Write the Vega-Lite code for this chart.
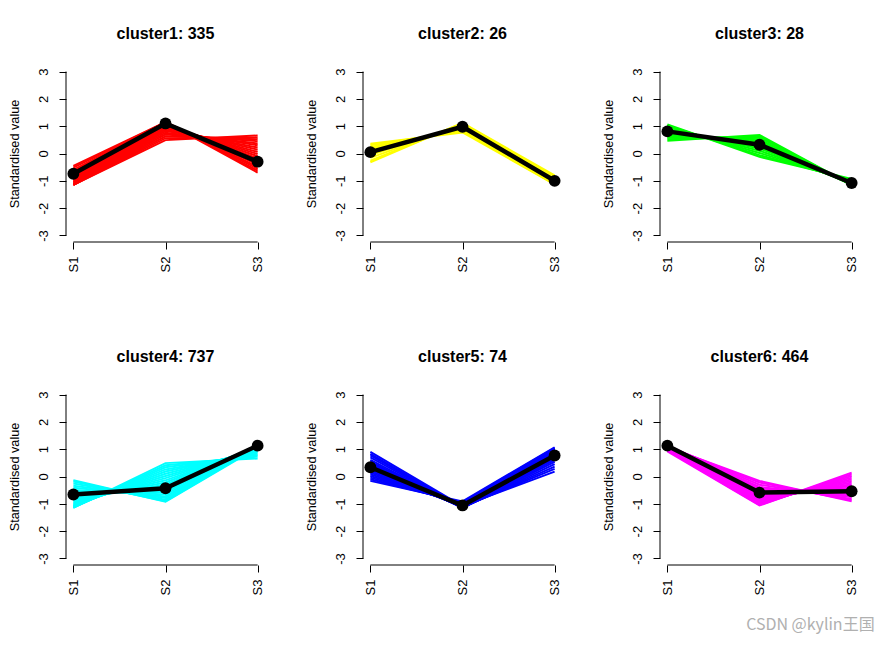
{
"$schema": "https://vega.github.io/schema/vega-lite/v6.json",
"background": "white",
"padding": {"left": 8, "top": 26, "right": 5, "bottom": 5},
"bounds": "flush",
"columns": 3,
"spacing": {"row": 146, "column": 98},
"title": {"text": "CSDN @kylin王国", "orient": "bottom", "anchor": "end", "fontSize": 16, "fontWeight": "normal", "color": "#b0b0b0", "font": "Noto Sans CJK SC", "offset": 22, "dx": 14},
"config": {
  "font": "Liberation Sans",
  "view": {"stroke": null},
  "axis": {"grid": false, "domain": false, "tickSize": 7, "tickWidth": 1, "tickColor": "black", "labelFontSize": 13, "labelColor": "black", "labelFont": "Liberation Sans", "titleFont": "Liberation Sans", "titleFontSize": 12.7, "titleFontWeight": "normal", "titleColor": "black", "labelOverlap": false},
  "axisY": {"labelAngle": -90, "labelAlign": "center", "labelBaseline": "bottom", "labelPadding": 9, "titlePadding": 16, "tickCount": 7},
  "axisX": {"labelAngle": -90, "labelAlign": "right", "labelBaseline": "middle", "labelPadding": 7},
  "title": {"fontSize": 16, "fontWeight": "bold", "font": "Liberation Sans", "offset": 23, "anchor": "middle", "color": "black"}
},
"datasets": {
  "genes": [
    {"c":1,"id":1,"S1":-0.45,"S2":1.15,"S3":-0.70},{"c":1,"id":2,"S1":-0.52,"S2":1.15,"S3":-0.63},{"c":1,"id":3,"S1":-0.60,"S2":1.15,"S3":-0.56},{"c":1,"id":4,"S1":-0.66,"S2":1.15,"S3":-0.49},{"c":1,"id":5,"S1":-0.73,"S2":1.14,"S3":-0.41},{"c":1,"id":6,"S1":-0.79,"S2":1.13,"S3":-0.34},{"c":1,"id":7,"S1":-0.85,"S2":1.10,"S3":-0.26},{"c":1,"id":8,"S1":-0.90,"S2":1.08,"S3":-0.18},{"c":1,"id":9,"S1":-0.95,"S2":1.05,"S3":-0.10},{"c":1,"id":10,"S1":-0.99,"S2":1.01,"S3":-0.02},{"c":1,"id":11,"S1":-1.03,"S2":0.97,"S3":0.06},{"c":1,"id":12,"S1":-1.06,"S2":0.92,"S3":0.14},{"c":1,"id":13,"S1":-1.09,"S2":0.87,"S3":0.22},{"c":1,"id":14,"S1":-1.12,"S2":0.82,"S3":0.30},{"c":1,"id":15,"S1":-1.13,"S2":0.76,"S3":0.37},{"c":1,"id":16,"S1":-1.15,"S2":0.70,"S3":0.45},{"c":1,"id":17,"S1":-1.15,"S2":0.63,"S3":0.52},{"c":1,"id":18,"S1":-1.15,"S2":0.56,"S3":0.59},{"c":1,"id":19,"S1":-1.15,"S2":0.49,"S3":0.66},
    {"c":2,"id":1,"S1":0.36,"S2":0.77,"S3":-1.13},{"c":2,"id":2,"S1":0.30,"S2":0.82,"S3":-1.12},{"c":2,"id":3,"S1":0.24,"S2":0.86,"S3":-1.10},{"c":2,"id":4,"S1":0.18,"S2":0.90,"S3":-1.08},{"c":2,"id":5,"S1":0.12,"S2":0.93,"S3":-1.05},{"c":2,"id":6,"S1":0.06,"S2":0.97,"S3":-1.03},{"c":2,"id":7,"S1":0.00,"S2":1.00,"S3":-1.00},{"c":2,"id":8,"S1":-0.06,"S2":1.03,"S3":-0.97},{"c":2,"id":9,"S1":-0.16,"S2":1.07,"S3":-0.91},{"c":2,"id":10,"S1":-0.26,"S2":1.10,"S3":-0.84},{"c":2,"id":11,"S1":-0.32,"S2":1.12,"S3":-0.80},
    {"c":3,"id":1,"S1":1.06,"S2":-0.12,"S3":-0.93},{"c":3,"id":2,"S1":1.03,"S2":-0.06,"S3":-0.97},{"c":3,"id":3,"S1":0.99,"S2":0.02,"S3":-1.01},{"c":3,"id":4,"S1":0.95,"S2":0.10,"S3":-1.05},{"c":3,"id":5,"S1":0.90,"S2":0.18,"S3":-1.08},{"c":3,"id":6,"S1":0.86,"S2":0.24,"S3":-1.10},{"c":3,"id":7,"S1":0.82,"S2":0.30,"S3":-1.12},{"c":3,"id":8,"S1":0.77,"S2":0.36,"S3":-1.13},{"c":3,"id":9,"S1":0.73,"S2":0.41,"S3":-1.14},{"c":3,"id":10,"S1":0.68,"S2":0.47,"S3":-1.15},{"c":3,"id":11,"S1":0.63,"S2":0.52,"S3":-1.15},{"c":3,"id":12,"S1":0.58,"S2":0.58,"S3":-1.15},{"c":3,"id":13,"S1":0.52,"S2":0.63,"S3":-1.15},{"c":3,"id":14,"S1":0.47,"S2":0.68,"S3":-1.15},
    {"c":4,"id":1,"S1":-1.15,"S2":0.49,"S3":0.66},{"c":4,"id":2,"S1":-1.14,"S2":0.41,"S3":0.73},{"c":4,"id":3,"S1":-1.13,"S2":0.34,"S3":0.79},{"c":4,"id":4,"S1":-1.10,"S2":0.26,"S3":0.84},{"c":4,"id":5,"S1":-1.08,"S2":0.18,"S3":0.90},{"c":4,"id":6,"S1":-1.05,"S2":0.10,"S3":0.95},{"c":4,"id":7,"S1":-1.01,"S2":0.02,"S3":0.99},{"c":4,"id":8,"S1":-0.97,"S2":-0.06,"S3":1.03},{"c":4,"id":9,"S1":-0.92,"S2":-0.14,"S3":1.06},{"c":4,"id":10,"S1":-0.87,"S2":-0.22,"S3":1.09},{"c":4,"id":11,"S1":-0.82,"S2":-0.30,"S3":1.12},{"c":4,"id":12,"S1":-0.76,"S2":-0.38,"S3":1.13},{"c":4,"id":13,"S1":-0.70,"S2":-0.45,"S3":1.15},{"c":4,"id":14,"S1":-0.63,"S2":-0.52,"S3":1.15},{"c":4,"id":15,"S1":-0.56,"S2":-0.59,"S3":1.15},{"c":4,"id":16,"S1":-0.49,"S2":-0.66,"S3":1.15},{"c":4,"id":17,"S1":-0.41,"S2":-0.73,"S3":1.14},{"c":4,"id":18,"S1":-0.34,"S2":-0.79,"S3":1.13},{"c":4,"id":19,"S1":-0.26,"S2":-0.85,"S3":1.11},{"c":4,"id":20,"S1":-0.18,"S2":-0.90,"S3":1.08},{"c":4,"id":21,"S1":-0.14,"S2":-0.92,"S3":1.06},
    {"c":5,"id":1,"S1":-0.16,"S2":-0.91,"S3":1.07},{"c":5,"id":2,"S1":-0.10,"S2":-0.95,"S3":1.05},{"c":5,"id":3,"S1":-0.04,"S2":-0.98,"S3":1.02},{"c":5,"id":4,"S1":0.02,"S2":-1.01,"S3":0.99},{"c":5,"id":5,"S1":0.08,"S2":-1.04,"S3":0.96},{"c":5,"id":6,"S1":0.14,"S2":-1.06,"S3":0.92},{"c":5,"id":7,"S1":0.20,"S2":-1.09,"S3":0.89},{"c":5,"id":8,"S1":0.26,"S2":-1.10,"S3":0.84},{"c":5,"id":9,"S1":0.32,"S2":-1.12,"S3":0.80},{"c":5,"id":10,"S1":0.38,"S2":-1.13,"S3":0.75},{"c":5,"id":11,"S1":0.43,"S2":-1.14,"S3":0.71},{"c":5,"id":12,"S1":0.49,"S2":-1.15,"S3":0.66},{"c":5,"id":13,"S1":0.54,"S2":-1.15,"S3":0.61},{"c":5,"id":14,"S1":0.61,"S2":-1.15,"S3":0.54},{"c":5,"id":15,"S1":0.70,"S2":-1.15,"S3":0.45},{"c":5,"id":16,"S1":0.77,"S2":-1.13,"S3":0.36},{"c":5,"id":17,"S1":0.83,"S2":-1.11,"S3":0.28},{"c":5,"id":18,"S1":0.90,"S2":-1.08,"S3":0.18},
    {"c":6,"id":1,"S1":0.92,"S2":-1.06,"S3":0.14},{"c":6,"id":2,"S1":0.96,"S2":-1.04,"S3":0.08},{"c":6,"id":3,"S1":0.99,"S2":-1.01,"S3":0.02},{"c":6,"id":4,"S1":1.02,"S2":-0.98,"S3":-0.04},{"c":6,"id":5,"S1":1.05,"S2":-0.95,"S3":-0.10},{"c":6,"id":6,"S1":1.07,"S2":-0.91,"S3":-0.16},{"c":6,"id":7,"S1":1.09,"S2":-0.87,"S3":-0.22},{"c":6,"id":8,"S1":1.11,"S2":-0.83,"S3":-0.28},{"c":6,"id":9,"S1":1.13,"S2":-0.79,"S3":-0.34},{"c":6,"id":10,"S1":1.14,"S2":-0.74,"S3":-0.40},{"c":6,"id":11,"S1":1.15,"S2":-0.70,"S3":-0.45},{"c":6,"id":12,"S1":1.15,"S2":-0.65,"S3":-0.50},{"c":6,"id":13,"S1":1.15,"S2":-0.59,"S3":-0.56},{"c":6,"id":14,"S1":1.15,"S2":-0.54,"S3":-0.61},{"c":6,"id":15,"S1":1.15,"S2":-0.49,"S3":-0.66},{"c":6,"id":16,"S1":1.14,"S2":-0.43,"S3":-0.71},{"c":6,"id":17,"S1":1.13,"S2":-0.38,"S3":-0.75},{"c":6,"id":18,"S1":1.12,"S2":-0.30,"S3":-0.82},{"c":6,"id":19,"S1":1.09,"S2":-0.22,"S3":-0.87},{"c":6,"id":20,"S1":1.07,"S2":-0.16,"S3":-0.91}
  ],
  "centroids": [
    {"c":1,"S1":-0.74,"S2":1.10,"S3":-0.30},
    {"c":2,"S1":0.05,"S2":0.98,"S3":-1.00},
    {"c":3,"S1":0.81,"S2":0.32,"S3":-1.08},
    {"c":4,"S1":-0.66,"S2":-0.43,"S3":1.13},
    {"c":5,"S1":0.34,"S2":-1.06,"S3":0.77},
    {"c":6,"S1":1.13,"S2":-0.59,"S3":-0.54}
  ]
},
"concat": [
 {"width": 199, "height": 177, "title": "cluster1: 335", "resolve": {"scale": {"x": "independent"}},
  "layer": [
   {"layer": [
     {"data": {"name": "genes"}, "transform": [{"filter": "datum.c == 1"}, {"fold": ["S1","S2","S3"], "as": ["sample","value"]}],
      "mark": {"type": "line", "color": "#ff0000", "strokeWidth": 2},
      "encoding": {"x": {"field": "sample", "type": "ordinal", "scale": {"type": "point", "padding": 0.08}, "axis": {"title": null}},
                   "y": {"field": "value", "type": "quantitative", "scale": {"domain": [-3.24, 3.24], "nice": false, "zero": false}, "axis": {"title": "Standardised value", "values": [-3,-2,-1,0,1,2,3], "tickCount": 7, "labelOverlap": false, "labelExpr": "'' + datum.value"}},
                   "detail": {"field": "id", "type": "nominal"}}},
     {"data": {"name": "centroids"}, "transform": [{"filter": "datum.c == 1"}, {"fold": ["S1","S2","S3"], "as": ["sample","value"]}],
      "mark": {"type": "line", "color": "black", "strokeWidth": 4.5, "point": {"filled": true, "size": 140, "color": "black"}},
      "encoding": {"x": {"field": "sample", "type": "ordinal", "axis": {"title": null}}, "y": {"field": "value", "type": "quantitative", "axis": {"title": "Standardised value", "values": [-3,-2,-1,0,1,2,3], "tickCount": 7, "labelOverlap": false, "labelExpr": "'' + datum.value"}}}},
     {"data": {"values": [{}]}, "mark": {"type": "rule", "color": "black", "strokeWidth": 1},
      "encoding": {"x": {"datum": "S1", "type": "ordinal"}, "x2": {"datum": "S3"}, "y": {"datum": -3.24, "type": "quantitative"}}}
   ]},
   {"data": {"values": [{}]}, "mark": {"type": "rule", "color": "black", "strokeWidth": 1},
    "encoding": {"x": {"datum": 0, "type": "quantitative", "scale": {"domain": [0, 1]}, "axis": null}, "y": {"datum": -3, "type": "quantitative"}, "y2": {"datum": 3}}}
  ]},
 {"width": 199, "height": 177, "title": "cluster2: 26", "resolve": {"scale": {"x": "independent"}},
  "layer": [
   {"layer": [
     {"data": {"name": "genes"}, "transform": [{"filter": "datum.c == 2"}, {"fold": ["S1","S2","S3"], "as": ["sample","value"]}],
      "mark": {"type": "line", "color": "#ffff00", "strokeWidth": 2},
      "encoding": {"x": {"field": "sample", "type": "ordinal", "scale": {"type": "point", "padding": 0.08}, "axis": {"title": null}},
                   "y": {"field": "value", "type": "quantitative", "scale": {"domain": [-3.24, 3.24], "nice": false, "zero": false}, "axis": {"title": "Standardised value", "values": [-3,-2,-1,0,1,2,3], "tickCount": 7, "labelOverlap": false, "labelExpr": "'' + datum.value"}},
                   "detail": {"field": "id", "type": "nominal"}}},
     {"data": {"name": "centroids"}, "transform": [{"filter": "datum.c == 2"}, {"fold": ["S1","S2","S3"], "as": ["sample","value"]}],
      "mark": {"type": "line", "color": "black", "strokeWidth": 4.5, "point": {"filled": true, "size": 140, "color": "black"}},
      "encoding": {"x": {"field": "sample", "type": "ordinal", "axis": {"title": null}}, "y": {"field": "value", "type": "quantitative", "axis": {"title": "Standardised value", "values": [-3,-2,-1,0,1,2,3], "tickCount": 7, "labelOverlap": false, "labelExpr": "'' + datum.value"}}}},
     {"data": {"values": [{}]}, "mark": {"type": "rule", "color": "black", "strokeWidth": 1},
      "encoding": {"x": {"datum": "S1", "type": "ordinal"}, "x2": {"datum": "S3"}, "y": {"datum": -3.24, "type": "quantitative"}}}
   ]},
   {"data": {"values": [{}]}, "mark": {"type": "rule", "color": "black", "strokeWidth": 1},
    "encoding": {"x": {"datum": 0, "type": "quantitative", "scale": {"domain": [0, 1]}, "axis": null}, "y": {"datum": -3, "type": "quantitative"}, "y2": {"datum": 3}}}
  ]},
 {"width": 199, "height": 177, "title": "cluster3: 28", "resolve": {"scale": {"x": "independent"}},
  "layer": [
   {"layer": [
     {"data": {"name": "genes"}, "transform": [{"filter": "datum.c == 3"}, {"fold": ["S1","S2","S3"], "as": ["sample","value"]}],
      "mark": {"type": "line", "color": "#00ff00", "strokeWidth": 2},
      "encoding": {"x": {"field": "sample", "type": "ordinal", "scale": {"type": "point", "padding": 0.08}, "axis": {"title": null}},
                   "y": {"field": "value", "type": "quantitative", "scale": {"domain": [-3.24, 3.24], "nice": false, "zero": false}, "axis": {"title": "Standardised value", "values": [-3,-2,-1,0,1,2,3], "tickCount": 7, "labelOverlap": false, "labelExpr": "'' + datum.value"}},
                   "detail": {"field": "id", "type": "nominal"}}},
     {"data": {"name": "centroids"}, "transform": [{"filter": "datum.c == 3"}, {"fold": ["S1","S2","S3"], "as": ["sample","value"]}],
      "mark": {"type": "line", "color": "black", "strokeWidth": 4.5, "point": {"filled": true, "size": 140, "color": "black"}},
      "encoding": {"x": {"field": "sample", "type": "ordinal", "axis": {"title": null}}, "y": {"field": "value", "type": "quantitative", "axis": {"title": "Standardised value", "values": [-3,-2,-1,0,1,2,3], "tickCount": 7, "labelOverlap": false, "labelExpr": "'' + datum.value"}}}},
     {"data": {"values": [{}]}, "mark": {"type": "rule", "color": "black", "strokeWidth": 1},
      "encoding": {"x": {"datum": "S1", "type": "ordinal"}, "x2": {"datum": "S3"}, "y": {"datum": -3.24, "type": "quantitative"}}}
   ]},
   {"data": {"values": [{}]}, "mark": {"type": "rule", "color": "black", "strokeWidth": 1},
    "encoding": {"x": {"datum": 0, "type": "quantitative", "scale": {"domain": [0, 1]}, "axis": null}, "y": {"datum": -3, "type": "quantitative"}, "y2": {"datum": 3}}}
  ]},
 {"width": 199, "height": 177, "title": "cluster4: 737", "resolve": {"scale": {"x": "independent"}},
  "layer": [
   {"layer": [
     {"data": {"name": "genes"}, "transform": [{"filter": "datum.c == 4"}, {"fold": ["S1","S2","S3"], "as": ["sample","value"]}],
      "mark": {"type": "line", "color": "#00ffff", "strokeWidth": 2},
      "encoding": {"x": {"field": "sample", "type": "ordinal", "scale": {"type": "point", "padding": 0.08}, "axis": {"title": null}},
                   "y": {"field": "value", "type": "quantitative", "scale": {"domain": [-3.24, 3.24], "nice": false, "zero": false}, "axis": {"title": "Standardised value", "values": [-3,-2,-1,0,1,2,3], "tickCount": 7, "labelOverlap": false, "labelExpr": "'' + datum.value"}},
                   "detail": {"field": "id", "type": "nominal"}}},
     {"data": {"name": "centroids"}, "transform": [{"filter": "datum.c == 4"}, {"fold": ["S1","S2","S3"], "as": ["sample","value"]}],
      "mark": {"type": "line", "color": "black", "strokeWidth": 4.5, "point": {"filled": true, "size": 140, "color": "black"}},
      "encoding": {"x": {"field": "sample", "type": "ordinal", "axis": {"title": null}}, "y": {"field": "value", "type": "quantitative", "axis": {"title": "Standardised value", "values": [-3,-2,-1,0,1,2,3], "tickCount": 7, "labelOverlap": false, "labelExpr": "'' + datum.value"}}}},
     {"data": {"values": [{}]}, "mark": {"type": "rule", "color": "black", "strokeWidth": 1},
      "encoding": {"x": {"datum": "S1", "type": "ordinal"}, "x2": {"datum": "S3"}, "y": {"datum": -3.24, "type": "quantitative"}}}
   ]},
   {"data": {"values": [{}]}, "mark": {"type": "rule", "color": "black", "strokeWidth": 1},
    "encoding": {"x": {"datum": 0, "type": "quantitative", "scale": {"domain": [0, 1]}, "axis": null}, "y": {"datum": -3, "type": "quantitative"}, "y2": {"datum": 3}}}
  ]},
 {"width": 199, "height": 177, "title": "cluster5: 74", "resolve": {"scale": {"x": "independent"}},
  "layer": [
   {"layer": [
     {"data": {"name": "genes"}, "transform": [{"filter": "datum.c == 5"}, {"fold": ["S1","S2","S3"], "as": ["sample","value"]}],
      "mark": {"type": "line", "color": "#0000ff", "strokeWidth": 2},
      "encoding": {"x": {"field": "sample", "type": "ordinal", "scale": {"type": "point", "padding": 0.08}, "axis": {"title": null}},
                   "y": {"field": "value", "type": "quantitative", "scale": {"domain": [-3.24, 3.24], "nice": false, "zero": false}, "axis": {"title": "Standardised value", "values": [-3,-2,-1,0,1,2,3], "tickCount": 7, "labelOverlap": false, "labelExpr": "'' + datum.value"}},
                   "detail": {"field": "id", "type": "nominal"}}},
     {"data": {"name": "centroids"}, "transform": [{"filter": "datum.c == 5"}, {"fold": ["S1","S2","S3"], "as": ["sample","value"]}],
      "mark": {"type": "line", "color": "black", "strokeWidth": 4.5, "point": {"filled": true, "size": 140, "color": "black"}},
      "encoding": {"x": {"field": "sample", "type": "ordinal", "axis": {"title": null}}, "y": {"field": "value", "type": "quantitative", "axis": {"title": "Standardised value", "values": [-3,-2,-1,0,1,2,3], "tickCount": 7, "labelOverlap": false, "labelExpr": "'' + datum.value"}}}},
     {"data": {"values": [{}]}, "mark": {"type": "rule", "color": "black", "strokeWidth": 1},
      "encoding": {"x": {"datum": "S1", "type": "ordinal"}, "x2": {"datum": "S3"}, "y": {"datum": -3.24, "type": "quantitative"}}}
   ]},
   {"data": {"values": [{}]}, "mark": {"type": "rule", "color": "black", "strokeWidth": 1},
    "encoding": {"x": {"datum": 0, "type": "quantitative", "scale": {"domain": [0, 1]}, "axis": null}, "y": {"datum": -3, "type": "quantitative"}, "y2": {"datum": 3}}}
  ]},
 {"width": 199, "height": 177, "title": "cluster6: 464", "resolve": {"scale": {"x": "independent"}},
  "layer": [
   {"layer": [
     {"data": {"name": "genes"}, "transform": [{"filter": "datum.c == 6"}, {"fold": ["S1","S2","S3"], "as": ["sample","value"]}],
      "mark": {"type": "line", "color": "#ff00ff", "strokeWidth": 2},
      "encoding": {"x": {"field": "sample", "type": "ordinal", "scale": {"type": "point", "padding": 0.08}, "axis": {"title": null}},
                   "y": {"field": "value", "type": "quantitative", "scale": {"domain": [-3.24, 3.24], "nice": false, "zero": false}, "axis": {"title": "Standardised value", "values": [-3,-2,-1,0,1,2,3], "tickCount": 7, "labelOverlap": false, "labelExpr": "'' + datum.value"}},
                   "detail": {"field": "id", "type": "nominal"}}},
     {"data": {"name": "centroids"}, "transform": [{"filter": "datum.c == 6"}, {"fold": ["S1","S2","S3"], "as": ["sample","value"]}],
      "mark": {"type": "line", "color": "black", "strokeWidth": 4.5, "point": {"filled": true, "size": 140, "color": "black"}},
      "encoding": {"x": {"field": "sample", "type": "ordinal", "axis": {"title": null}}, "y": {"field": "value", "type": "quantitative", "axis": {"title": "Standardised value", "values": [-3,-2,-1,0,1,2,3], "tickCount": 7, "labelOverlap": false, "labelExpr": "'' + datum.value"}}}},
     {"data": {"values": [{}]}, "mark": {"type": "rule", "color": "black", "strokeWidth": 1},
      "encoding": {"x": {"datum": "S1", "type": "ordinal"}, "x2": {"datum": "S3"}, "y": {"datum": -3.24, "type": "quantitative"}}}
   ]},
   {"data": {"values": [{}]}, "mark": {"type": "rule", "color": "black", "strokeWidth": 1},
    "encoding": {"x": {"datum": 0, "type": "quantitative", "scale": {"domain": [0, 1]}, "axis": null}, "y": {"datum": -3, "type": "quantitative"}, "y2": {"datum": 3}}}
  ]}
]
}
